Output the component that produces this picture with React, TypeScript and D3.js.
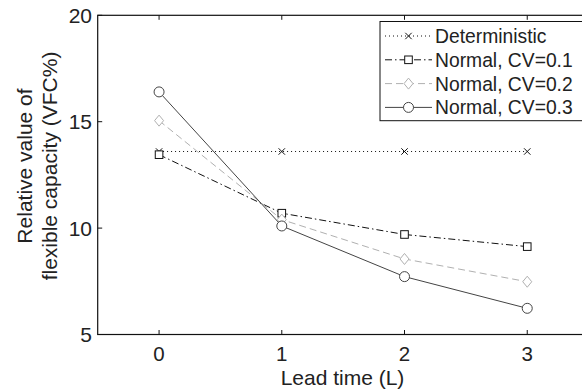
import React from "react";
import * as d3 from "d3";

const leadTimes = [0, 1, 2, 3];
const deterministic = [13.6, 13.6, 13.6, 13.6];
const normalCV01 = [13.45, 10.7, 9.7, 9.13];
const normalCV02 = [15.05, 10.4, 8.55, 7.48];
const normalCV03 = [16.4, 10.1, 7.72, 6.23];
const xTicks = [0, 1, 2, 3];
const yTicks = [5, 10, 15, 20];
const seriesNames = ["Deterministic", "Normal, CV=0.1", "Normal, CV=0.2", "Normal, CV=0.3"];

const W = 582;
const H = 392;
const FONT = "'Liberation Sans', Arial, Helvetica, sans-serif";

type Style = { color: string; dash: string; marker: string };
const styles: Style[] = [
  { color: "#111", dash: "1,3", marker: "x" },
  { color: "#111", dash: "7,3,1.5,3", marker: "square" },
  { color: "#b0b0b0", dash: "7,4", marker: "diamond" },
  { color: "#444", dash: "", marker: "circle" },
];

function Marker({ kind, x, y, color }: { kind: string; x: number; y: number; color: string }) {
  if (kind === "x") {
    const s = 3.2;
    return (
      <path d={`M${x - s},${y - s}L${x + s},${y + s}M${x - s},${y + s}L${x + s},${y - s}`} stroke={color} strokeWidth={1} fill="none" />
    );
  }
  if (kind === "square") {
    return <rect x={x - 3.8} y={y - 3.8} width={7.6} height={7.6} stroke={color} strokeWidth={1} fill="white" />;
  }
  if (kind === "diamond") {
    return <path d={`M${x},${y - 5.5}L${x + 4.5},${y}L${x},${y + 5.5}L${x - 4.5},${y}Z`} stroke={color} strokeWidth={1} fill="white" />;
  }
  return <circle cx={x} cy={y} r={5} stroke={color} strokeWidth={1} fill="white" />;
}

export default function App() {
  const x = d3.scaleLinear().domain([-0.5, 3.5]).range([97.7, 588.6]);
  const y = d3.scaleLinear().domain([5, 20]).range([334.5, 15.3]);
  const data = [deterministic, normalCV01, normalCV02, normalCV03];
  const line = d3
    .line<number>()
    .x((_, i) => x(leadTimes[i]))
    .y((d) => y(d));

  const left = x.range()[0];
  const right = x.range()[1];
  const top = y.range()[1];
  const bottom = y.range()[0];
  const tl = 4.5;

  const legX = 380;
  const legY = 21.5;
  const rowH = 23.8;

  return (
    <svg width={W} height={H} style={{ position: "absolute", left: 0, top: 0, background: "white" }} fontFamily={FONT}>
      <rect x={0} y={0} width={W} height={H} fill="white" />
      {data.map((vals, si) => (
        <g key={si}>
          <path d={line(vals) || ""} fill="none" stroke={styles[si].color} strokeWidth={1} strokeDasharray={styles[si].dash} />
          {vals.map((v, i) => (
            <Marker key={i} kind={styles[si].marker} x={x(leadTimes[i])} y={y(v)} color={styles[si].color} />
          ))}
        </g>
      ))}
      {/* axes box */}
      <rect x={left} y={top} width={right - left} height={bottom - top} fill="none" stroke="#111" strokeWidth={1.2} />
      {xTicks.map((t) => (
        <g key={t}>
          <line x1={x(t)} x2={x(t)} y1={bottom} y2={bottom - tl} stroke="#111" strokeWidth={1} />
          <line x1={x(t)} x2={x(t)} y1={top} y2={top + tl} stroke="#111" strokeWidth={1} />
          <text x={x(t)} y={361} textAnchor="middle" fontSize={20.5} fill="#222">
            {t}
          </text>
        </g>
      ))}
      {yTicks.map((t) => (
        <g key={t}>
          <line x1={left} x2={left + tl} y1={y(t)} y2={y(t)} stroke="#111" strokeWidth={1} />
          <line x1={right} x2={right - tl} y1={y(t)} y2={y(t)} stroke="#111" strokeWidth={1} />
          <text x={92} y={y(t) + 7.4} textAnchor="end" fontSize={21} fill="#222">
            {t}
          </text>
        </g>
      ))}
      <text x={342.5} y={385} textAnchor="middle" fontSize={21} fill="#222">
        Lead time (L)
      </text>
      <g transform={`translate(32,166) rotate(-90)`}>
        <text x={0} y={0} textAnchor="middle" fontSize={21} fill="#222">
          Relative value of
        </text>
        <text x={0} y={25} textAnchor="middle" fontSize={21} fill="#222">
          flexible capacity (VFC%)
        </text>
      </g>
      {/* legend */}
      <rect x={legX} y={legY} width={206} height={rowH * 4 + 4} fill="white" stroke="#111" strokeWidth={1} />
      {seriesNames.map((name, i) => {
        const cy = legY + 14.5 + i * rowH;
        return (
          <g key={name}>
            <line x1={385} x2={432} y1={cy} y2={cy} stroke={styles[i].color} strokeWidth={1} strokeDasharray={styles[i].dash} />
            <Marker kind={styles[i].marker} x={408.5} y={cy} color={styles[i].color} />
            <text x={435} y={cy + 7} fontSize={19.3} fill="#222">
              {name}
            </text>
          </g>
        );
      })}
    </svg>
  );
}
